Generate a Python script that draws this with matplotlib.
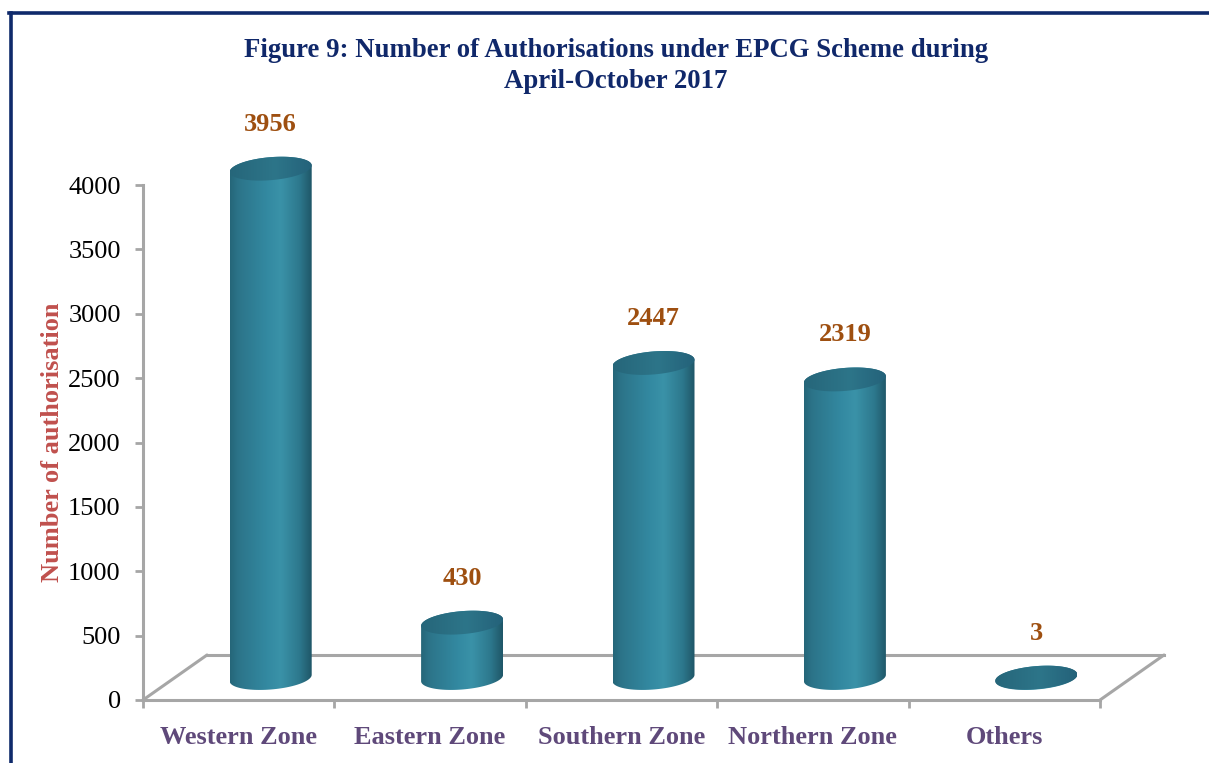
import numpy as np
import matplotlib.pyplot as plt
from matplotlib.patches import Polygon, ConnectionPatch
from matplotlib.lines import Line2D
from matplotlib.colors import LinearSegmentedColormap

# data
zones = ["Western Zone", "Eastern Zone", "Southern Zone", "Northern Zone", "Others"]
counts = [3956, 430, 2447, 2319, 3]
y_ticks = list(range(0, 4001, 500))

title = "Figure 9: Number of Authorisations under EPCG Scheme during\nApril-October 2017"
y_label = "Number of authorisation"

SERIF = ["Liberation Serif", "DejaVu Serif"]
GRID = "#a6a6a6"

W, H = 1209, 763
fig = plt.figure(figsize=(W / 100, H / 100), dpi=100)
fig.patch.set_facecolor("white")

n = len(zones)
xlim = (-0.5, n - 0.5)
ylim = (0, 4000)
px_x = 957 / n          # pixels per category
px_y = 515 / 4000       # pixels per unit


def box(left, bottom, lo=0, hi=4000):
    # plot area 957 px wide; value 0 sits at pixel row `bottom` (from top)
    base = bottom - lo * px_y
    return [left / W, (H - base) / H, 957 / W, (hi - lo) * px_y / H]


# back plane (floor back edge only)
back = fig.add_axes(box(207, 655))
back.set_xlim(xlim); back.set_ylim(ylim)
back.patch.set_visible(False)
for s in ["top", "right", "left"]:
    back.spines[s].set_visible(False)
back.spines["bottom"].set_color(GRID)
back.spines["bottom"].set_linewidth(2.2)
back.set_xticks([]); back.set_yticks([])

# front plane: value axis and category axis
front = fig.add_axes(box(143, 700))
front.set_xlim(xlim); front.set_ylim(ylim)
front.patch.set_visible(False)
for s in ["top", "right"]:
    front.spines[s].set_visible(False)
for s in ["left", "bottom"]:
    front.spines[s].set_color(GRID)
    front.spines[s].set_linewidth(2.2)
front.set_yticks(y_ticks)
front.set_yticklabels([str(t) for t in y_ticks], fontsize=19, family=SERIF)
front.tick_params(axis="y", direction="out", length=6, width=2, color=GRID, pad=10)
front.set_xticks(np.arange(-0.5, n, 1.0))
front.set_xticklabels([])
front.tick_params(axis="x", which="major", direction="out", length=6, width=2, color=GRID)
front.set_xticks(range(n), minor=True)
front.set_xticklabels(zones, minor=True, fontsize=19, fontweight="bold",
                      family=SERIF, color="#5f497a")
front.tick_params(axis="x", which="minor", length=0, pad=18.5)

# floor side edges
for xc in xlim:
    con = ConnectionPatch(xyA=(xc, 0), coordsA=front.transData,
                          xyB=(xc, 0), coordsB=back.transData,
                          color=GRID, lw=2.2)
    fig.add_artist(con)

# middle plane: cylinders (limits padded so caps are not cut)
pad_lo, pad_hi = -400, 4400
ax = fig.add_axes(box(175, 678, pad_lo, pad_hi))
ax.set_axis_off()

a = 41 / px_x           # cylinder radius (x)
b = 11.5 / px_y         # ellipse half height
s = 3.2 / px_y          # tilt of the ellipse

body_cmap = LinearSegmentedColormap.from_list(
    "body", [(0.0, "#256679"), (0.1, "#2c7489"), (0.45, "#3389a1"),
             (0.62, "#3a92a8"), (0.85, "#2d788d"), (1.0, "#1f5667")])
cap_cmap = LinearSegmentedColormap.from_list(
    "cap", [(0.0, "#26667a"), (0.55, "#2d7589"), (1.0, "#24627a")])

grad = np.linspace(0, 1, 256).reshape(1, -1)

for i, v in enumerate(counts):
    t_up = np.linspace(np.pi, 0, 60)
    t_dn = np.linspace(0, -np.pi, 60)
    top_x = i + a * np.cos(t_up)
    top_y = v + b * np.sin(t_up) + s * np.cos(t_up)
    bot_x = i + a * np.cos(t_dn)
    bot_y = b * np.sin(t_dn) + s * np.cos(t_dn)
    verts = np.vstack([np.column_stack([top_x, top_y]),
                       np.column_stack([bot_x, bot_y])])
    body = Polygon(verts, closed=True, facecolor="none", edgecolor="none")
    ax.add_patch(body)
    im = ax.imshow(grad, cmap=body_cmap, aspect="auto", interpolation="bicubic",
                   extent=(i - a, i + a, -b - s, v + b + s))
    im.set_clip_path(body)

    t = np.linspace(0, 2 * np.pi, 120)
    cap_v = np.column_stack([i + a * np.cos(t), v + b * np.sin(t) + s * np.cos(t)])
    cap = Polygon(cap_v, closed=True, facecolor="none", edgecolor="none")
    ax.add_patch(cap)
    im2 = ax.imshow(grad, cmap=cap_cmap, aspect="auto", interpolation="bicubic",
                    extent=(i - a, i + a, v - b - s, v + b + s))
    im2.set_clip_path(cap)

    ax.annotate(str(v), xy=(i, v), xytext=(0, 32), textcoords="offset points",
                ha="center", va="center", fontsize=19, fontweight="bold",
                family=SERIF, color="#9e4f10")

ax.set_xlim(xlim)
ax.set_ylim(pad_lo, pad_hi)

# titles
fig.text(616 / W, 1 - 66 / H, title, ha="center", va="center", fontsize=19.3,
         fontweight="bold", family=SERIF, color="#10286a", linespacing=1.3)
fig.text(53 / W, 1 - 442 / H, y_label, ha="center", va="center", rotation=90,
         fontsize=19, fontweight="bold", family=SERIF, color="#c0504d")

# outer frame (top and left)
fig.add_artist(Line2D([9 / W, 1], [1 - 13 / H] * 2, transform=fig.transFigure,
                      color="#0f2a6b", lw=2.6))
fig.add_artist(Line2D([11 / W] * 2, [1 - 13 / H, 0], transform=fig.transFigure,
                      color="#0f2a6b", lw=2.6))

fig.savefig("out.png", dpi=100, facecolor="white")
